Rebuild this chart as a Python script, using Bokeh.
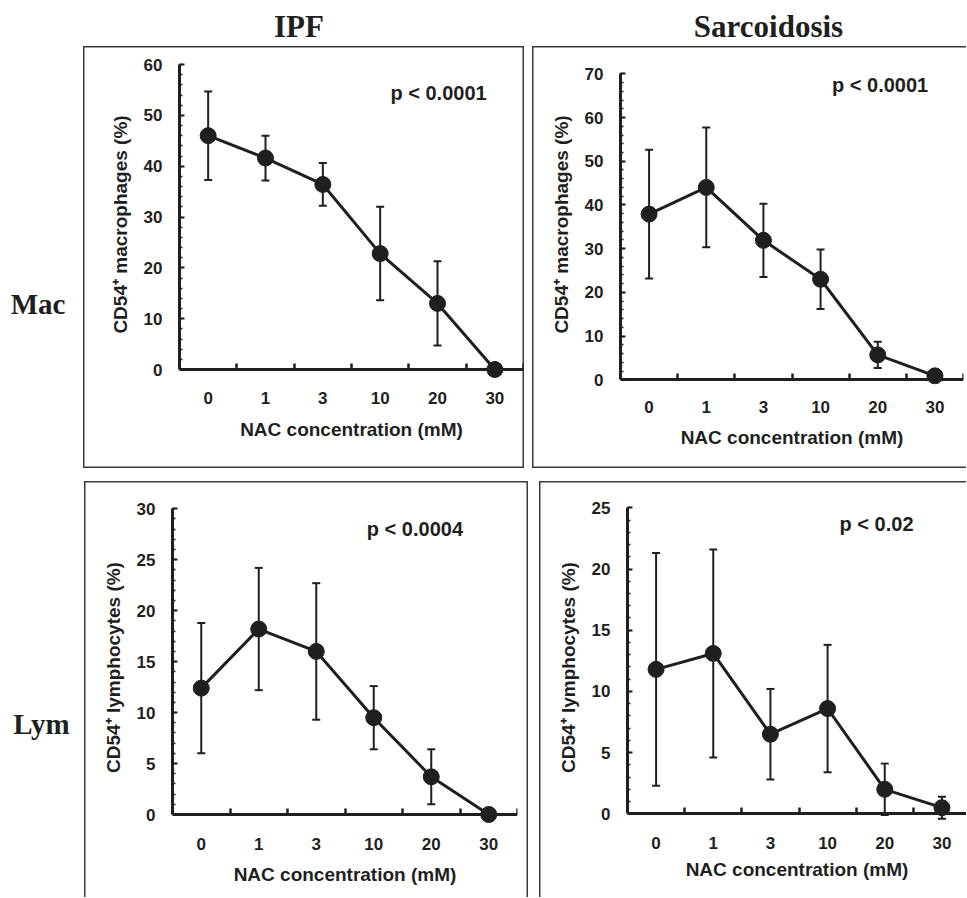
from bokeh.plotting import figure
from bokeh.models import (ColumnDataSource, Range1d, FixedTicker, SingleIntervalTicker,
                          Whisker, TeeHead, Label, Spacer, LinearAxis)
from bokeh.layouts import row, column
from bokeh.embed import file_html
from bokeh.resources import INLINE

# ---------------- data ----------------
conc_labels = ["0", "1", "3", "10", "20", "30"]

ipf_mac_mean = [46.0, 41.6, 36.4, 22.8, 13.0, 0.0]
ipf_mac_err = [8.7, 4.4, 4.2, 9.2, 8.3, 0.0]

sarc_mac_mean = [37.9, 44.0, 31.9, 23.0, 5.7, 0.9]
sarc_mac_err = [14.7, 13.7, 8.4, 6.8, 3.0, 0.5]

ipf_lym_mean = [12.4, 18.2, 16.0, 9.5, 3.7, 0.0]
ipf_lym_err = [6.4, 6.0, 6.7, 3.1, 2.7, 0.0]

sarc_lym_mean = [11.8, 13.1, 6.5, 8.6, 2.0, 0.5]
sarc_lym_err = [9.5, 8.5, 3.7, 5.2, 2.1, 0.9]

col_titles = ["IPF", "Sarcoidosis"]
row_titles = ["Mac", "Lym"]
p_values = ["p < 0.0001", "p < 0.0001", "p < 0.0004", "p < 0.02"]
x_title = "NAC concentration (mM)"
y_titles = ["CD54\u207a macrophages (%)", "CD54\u207a lymphocytes (%)"]

INK = "#1f1f1f"
BOXC = "#3a3a3a"
SANS = "Liberation Sans"
SERIF = "Liberation Serif"


def panel(mean, err, ylabel, ymax, yint, ptext, *, box_w, box_h, f_left, f_top, f_bottom,
          f_right, ytop_off, y0_off, x_end, p_xy, tick_sd, title_sd, shadow):
    ppu = (y0_off - ytop_off) / ymax
    y_end = ymax + (ytop_off - f_top) / ppu
    y_start = -(box_h - f_bottom - y0_off) / ppu
    p = figure(width=box_w, height=box_h, toolbar_location=None, output_backend="svg",
               title=None,
               x_range=Range1d(-0.5, x_end), y_range=Range1d(y_start, y_end),
               min_border_left=f_left, min_border_top=f_top,
               min_border_right=f_right, min_border_bottom=f_bottom)
    p.background_fill_color = None
    p.border_fill_color = None
    p.outline_line_color = None
    p.xgrid.visible = False
    p.ygrid.visible = False
    p.styles = {"box-shadow": shadow}

    xs = list(range(len(conc_labels)))
    src = ColumnDataSource(dict(
        x=xs, mean=mean,
        upper=[m + e for m, e in zip(mean, err)],
        lower=[m - e for m, e in zip(mean, err)],
    ))

    p.add_layout(Whisker(source=src, base="x", upper="upper", lower="lower",
                         line_color=INK, line_width=2,
                         upper_head=TeeHead(size=8, line_color=INK, line_width=2),
                         lower_head=TeeHead(size=8, line_color=INK, line_width=2)))
    p.line("x", "mean", source=src, line_color=INK, line_width=3)
    p.scatter("x", "mean", source=src, size=16, color=INK)

    # x axis: labels and title (below the frame)
    xa = p.xaxis[0]
    xa.ticker = FixedTicker(ticks=xs, minor_ticks=[])
    xa.major_label_overrides = {i: c for i, c in enumerate(conc_labels)}
    xa.axis_line_color = None
    xa.major_tick_in = 0
    xa.major_tick_out = 0
    xa.minor_tick_in = 0
    xa.minor_tick_out = 0
    xa.major_label_standoff = tick_sd
    xa.major_label_text_font = SANS
    xa.major_label_text_font_style = "bold"
    xa.major_label_text_font_size = "17px"
    xa.major_label_text_color = INK
    xa.axis_label = x_title
    xa.axis_label_standoff = title_sd
    xa.axis_label_text_font = SANS
    xa.axis_label_text_font_style = "bold"
    xa.axis_label_text_font_size = "19px"
    xa.axis_label_text_color = INK

    # x axis line with category-boundary ticks, drawn at y = 0
    xl = LinearAxis(ticker=FixedTicker(ticks=[], minor_ticks=[i + 0.5 for i in xs]),
                    fixed_location=0, axis_line_width=3, axis_line_color=INK,
                    major_tick_in=0, major_tick_out=0, major_label_standoff=0,
                    minor_tick_in=6, minor_tick_out=0, minor_tick_line_width=2.5,
                    minor_tick_line_color=INK)
    p.add_layout(xl, "below")

    # y axis
    ya = p.yaxis[0]
    ya.ticker = SingleIntervalTicker(interval=yint, num_minor_ticks=5)
    ya.bounds = (0, ymax)
    ya.axis_line_width = 3
    ya.axis_line_color = INK
    ya.major_tick_in = 5
    ya.major_tick_out = 0
    ya.major_tick_line_width = 2
    ya.major_tick_line_color = INK
    ya.minor_tick_in = 3
    ya.minor_tick_out = 0
    ya.minor_tick_line_width = 1.5
    ya.minor_tick_line_color = INK
    ya.major_label_standoff = 17
    ya.major_label_text_font = SANS
    ya.major_label_text_font_style = "bold"
    ya.major_label_text_font_size = "17px"
    ya.major_label_text_color = INK
    ya.axis_label = ylabel
    ya.axis_label_standoff = 10
    ya.axis_label_text_font = SANS
    ya.axis_label_text_font_style = "bold"
    ya.axis_label_text_font_size = "19px"
    ya.axis_label_text_color = INK

    p.add_layout(Label(x=p_xy[0], y=p_xy[1], text=ptext, text_align="left",
                       text_baseline="middle", text_font=SANS, text_font_style="bold",
                       text_font_size="20px", text_color=INK))
    return p


def text_fig(w, h, items, size, top=0, bottom=0):
    f = figure(width=w, height=h, toolbar_location=None, output_backend="svg", title=None,
               x_range=Range1d(0, w), y_range=Range1d(h - bottom, top),
               min_border_left=0, min_border_right=0,
               min_border_top=top, min_border_bottom=bottom,
               x_axis_type=None, y_axis_type=None)
    f.outline_line_color = None
    f.background_fill_color = None
    f.border_fill_color = None
    for x, y, t in items:
        f.add_layout(Label(x=x, y=y, text=t, text_align="center", text_baseline="middle",
                           text_font=SERIF, text_font_style="bold", text_font_size=size,
                           text_color=INK))
    return f


S = BOXC
# top row: box height 422, common frame top 18 / bottom 84
tl = panel(ipf_mac_mean, ipf_mac_err, y_titles[0], 60, 10, p_values[0],
           box_w=441, box_h=422, f_left=96, f_top=18, f_bottom=84, f_right=1,
           ytop_off=18, y0_off=323, x_end=5.5, p_xy=(3.18, 54.3), tick_sd=7, title_sd=12,
           shadow=f"inset 0 0 0 1.5px {S}")
tr = panel(sarc_mac_mean, sarc_mac_err, y_titles[0], 70, 10, p_values[1],
           box_w=434, box_h=422, f_left=88, f_top=18, f_bottom=84, f_right=3,
           ytop_off=27.3, y0_off=333.3, x_end=5.5, p_xy=(3.2, 67.4), tick_sd=16, title_sd=11,
           shadow=f"inset 1.5px 0 0 {S}, inset 0 1.5px 0 {S}, inset 0 -1.5px 0 {S}")
# bottom row: box height 416, common frame top 26 / bottom 70
bl = panel(ipf_lym_mean, ipf_lym_err, y_titles[1], 30, 5, p_values[2],
           box_w=444, box_h=416, f_left=88, f_top=26, f_bottom=70, f_right=11,
           ytop_off=27.3, y0_off=333, x_end=5.5, p_xy=(2.88, 28.0), tick_sd=10, title_sd=11,
           shadow=f"inset 1.5px 0 0 {S}, inset 0 1.5px 0 {S}, inset -1.5px 0 0 {S}")
br = panel(sarc_lym_mean, sarc_lym_err, y_titles[1], 25, 5, p_values[3],
           box_w=427, box_h=416, f_left=88, f_top=26, f_bottom=70, f_right=0,
           ytop_off=26.3, y0_off=332.3, x_end=5.43, p_xy=(3.21, 23.7), tick_sd=9, title_sd=7,
           shadow=f"inset 1.5px 0 0 {S}, inset 0 1.5px 0 {S}")

header = text_fig(966, 46, [(298.5, 25.5, col_titles[0]), (768, 25.5, col_titles[1])], "31px")
mac = text_fig(83, 422, [(37.5, 257.2, row_titles[0])], "29px", top=18, bottom=84)
lym = text_fig(84, 416, [(41, 242.2, row_titles[1])], "29px", top=26, bottom=70)

layout = column(
    header,
    row(mac, tl, Spacer(width=8, height=422), tr),
    Spacer(width=966, height=13),
    row(lym, bl, Spacer(width=11, height=416), br),
)

open("out.html", "w").write(file_html(layout, INLINE, "CD54 NAC"))
